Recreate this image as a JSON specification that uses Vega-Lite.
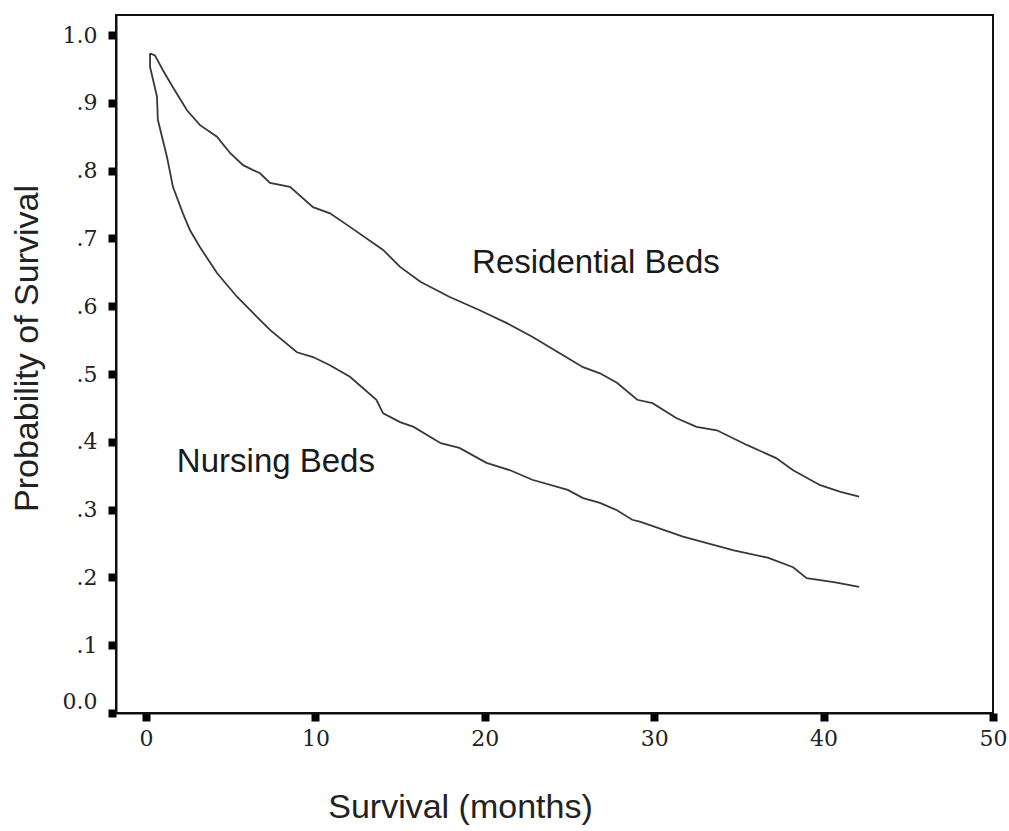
{
  "$schema": "https://vega.github.io/schema/vega-lite/v6.json",
  "width": 877,
  "height": 698,
  "autosize": {"type": "none"},
  "padding": {"left": 116, "top": 15, "right": 16, "bottom": 118},
  "background": "white",
  "config": {
    "view": {"stroke": "#111", "strokeWidth": 2},
    "axis": {
      "grid": false,
      "domainColor": "#111",
      "domainWidth": 2,
      "tickColor": "#000",
      "tickWidth": 8,
      "tickSize": 8,
      "labelFont": "DejaVu Serif",
      "labelFontSize": 22,
      "labelColor": "#222",
      "titleFont": "Liberation Sans",
      "titleFontSize": 34,
      "titleFontWeight": "normal",
      "titleColor": "#222"
    }
  },
  "datasets": {
    "curves": [
      {"group": "Residential Beds", "t": 0.24, "s": 0.973},
      {"group": "Residential Beds", "t": 0.53, "s": 0.970},
      {"group": "Residential Beds", "t": 1.0, "s": 0.948},
      {"group": "Residential Beds", "t": 1.59, "s": 0.923},
      {"group": "Residential Beds", "t": 2.42, "s": 0.889},
      {"group": "Residential Beds", "t": 3.19, "s": 0.867},
      {"group": "Residential Beds", "t": 4.19, "s": 0.850},
      {"group": "Residential Beds", "t": 4.96, "s": 0.826},
      {"group": "Residential Beds", "t": 5.73, "s": 0.808},
      {"group": "Residential Beds", "t": 6.73, "s": 0.796},
      {"group": "Residential Beds", "t": 7.32, "s": 0.782},
      {"group": "Residential Beds", "t": 8.5, "s": 0.776},
      {"group": "Residential Beds", "t": 9.86, "s": 0.746},
      {"group": "Residential Beds", "t": 10.86, "s": 0.737},
      {"group": "Residential Beds", "t": 12.04, "s": 0.717},
      {"group": "Residential Beds", "t": 14.0, "s": 0.683},
      {"group": "Residential Beds", "t": 15.0, "s": 0.658},
      {"group": "Residential Beds", "t": 16.2, "s": 0.636},
      {"group": "Residential Beds", "t": 17.9, "s": 0.614},
      {"group": "Residential Beds", "t": 19.7, "s": 0.594},
      {"group": "Residential Beds", "t": 21.3, "s": 0.575},
      {"group": "Residential Beds", "t": 22.8, "s": 0.555},
      {"group": "Residential Beds", "t": 24.4, "s": 0.531},
      {"group": "Residential Beds", "t": 25.8, "s": 0.510},
      {"group": "Residential Beds", "t": 26.8, "s": 0.501},
      {"group": "Residential Beds", "t": 27.8, "s": 0.487},
      {"group": "Residential Beds", "t": 29.0, "s": 0.462},
      {"group": "Residential Beds", "t": 29.9, "s": 0.457},
      {"group": "Residential Beds", "t": 31.3, "s": 0.435},
      {"group": "Residential Beds", "t": 32.5, "s": 0.422},
      {"group": "Residential Beds", "t": 33.7, "s": 0.417},
      {"group": "Residential Beds", "t": 35.5, "s": 0.395},
      {"group": "Residential Beds", "t": 37.2, "s": 0.376},
      {"group": "Residential Beds", "t": 38.2, "s": 0.358},
      {"group": "Residential Beds", "t": 39.8, "s": 0.336},
      {"group": "Residential Beds", "t": 41.0, "s": 0.326},
      {"group": "Residential Beds", "t": 42.1, "s": 0.319},
      {"group": "Nursing Beds", "t": 0.24, "s": 0.973},
      {"group": "Nursing Beds", "t": 0.24, "s": 0.953},
      {"group": "Nursing Beds", "t": 0.65, "s": 0.909},
      {"group": "Nursing Beds", "t": 0.70, "s": 0.875},
      {"group": "Nursing Beds", "t": 1.24, "s": 0.820},
      {"group": "Nursing Beds", "t": 1.59, "s": 0.776},
      {"group": "Nursing Beds", "t": 2.18, "s": 0.737},
      {"group": "Nursing Beds", "t": 2.60, "s": 0.712},
      {"group": "Nursing Beds", "t": 3.19, "s": 0.687},
      {"group": "Nursing Beds", "t": 4.19, "s": 0.649},
      {"group": "Nursing Beds", "t": 5.37, "s": 0.614},
      {"group": "Nursing Beds", "t": 6.32, "s": 0.590},
      {"group": "Nursing Beds", "t": 7.32, "s": 0.565},
      {"group": "Nursing Beds", "t": 8.91, "s": 0.532},
      {"group": "Nursing Beds", "t": 9.86, "s": 0.525},
      {"group": "Nursing Beds", "t": 10.86, "s": 0.513},
      {"group": "Nursing Beds", "t": 12.04, "s": 0.496},
      {"group": "Nursing Beds", "t": 13.6, "s": 0.462},
      {"group": "Nursing Beds", "t": 14.0, "s": 0.442},
      {"group": "Nursing Beds", "t": 15.0, "s": 0.429},
      {"group": "Nursing Beds", "t": 15.8, "s": 0.422},
      {"group": "Nursing Beds", "t": 17.4, "s": 0.398},
      {"group": "Nursing Beds", "t": 18.5, "s": 0.391},
      {"group": "Nursing Beds", "t": 20.1, "s": 0.369},
      {"group": "Nursing Beds", "t": 21.5, "s": 0.358},
      {"group": "Nursing Beds", "t": 22.8, "s": 0.344},
      {"group": "Nursing Beds", "t": 24.9, "s": 0.329},
      {"group": "Nursing Beds", "t": 25.8, "s": 0.317},
      {"group": "Nursing Beds", "t": 26.8, "s": 0.310},
      {"group": "Nursing Beds", "t": 27.8, "s": 0.299},
      {"group": "Nursing Beds", "t": 28.7, "s": 0.285},
      {"group": "Nursing Beds", "t": 29.2, "s": 0.282},
      {"group": "Nursing Beds", "t": 31.7, "s": 0.260},
      {"group": "Nursing Beds", "t": 34.7, "s": 0.240},
      {"group": "Nursing Beds", "t": 36.7, "s": 0.229},
      {"group": "Nursing Beds", "t": 38.2, "s": 0.215},
      {"group": "Nursing Beds", "t": 39.0, "s": 0.199},
      {"group": "Nursing Beds", "t": 40.6, "s": 0.193},
      {"group": "Nursing Beds", "t": 42.1, "s": 0.186}
    ],
    "labels": [
      {"label": "Residential Beds", "t": 26.56, "s": 0.649},
      {"label": "Nursing Beds", "t": 7.67, "s": 0.355}
    ]
  },
  "layer": [
    {
      "data": {"name": "curves"},
      "mark": {"type": "line", "stroke": "#383838", "strokeWidth": 1.8, "interpolate": "linear"},
      "encoding": {
        "x": {
          "field": "t",
          "type": "quantitative",
          "scale": {"domain": [-1.77, 50], "nice": false, "zero": false},
          "axis": {
            "values": [0, 10, 20, 30, 40, 50],
            "title": "Survival (months)",
            "labelPadding": 7,
            "labelFlush": false,
            "titleX": 344,
            "titleY": 104,
            "titleAlign": "center",
            "titleAnchor": null,
            "titleBaseline": "alphabetic"
          }
        },
        "y": {
          "field": "s",
          "type": "quantitative",
          "scale": {"domain": [0, 1.0295], "nice": false, "zero": false},
          "axis": {
            "values": [0, 0.1, 0.2, 0.3, 0.4, 0.5, 0.6, 0.7, 0.8, 0.9, 1.0],
            "labelExpr": "datum.value === 0 ? '0.0' : (datum.value >= 0.999 ? '1.0' : '.' + round(datum.value * 10))",
            "title": "Probability of Survival",
            "labelPadding": 11,
            "labelFlush": true,
            "titleX": -79,
            "titleY": 333,
            "titleAlign": "center",
            "titleAnchor": null,
            "titleBaseline": "alphabetic",
            "titleAngle": 270
          }
        },
        "detail": {"field": "group", "type": "nominal"}
      }
    },
    {
      "data": {"name": "labels"},
      "mark": {"type": "text", "font": "Liberation Sans", "fontSize": 33, "align": "center", "baseline": "alphabetic", "color": "#1a1a1a"},
      "encoding": {
        "x": {"field": "t", "type": "quantitative"},
        "y": {"field": "s", "type": "quantitative"},
        "text": {"field": "label", "type": "nominal"}
      }
    }
  ]
}
